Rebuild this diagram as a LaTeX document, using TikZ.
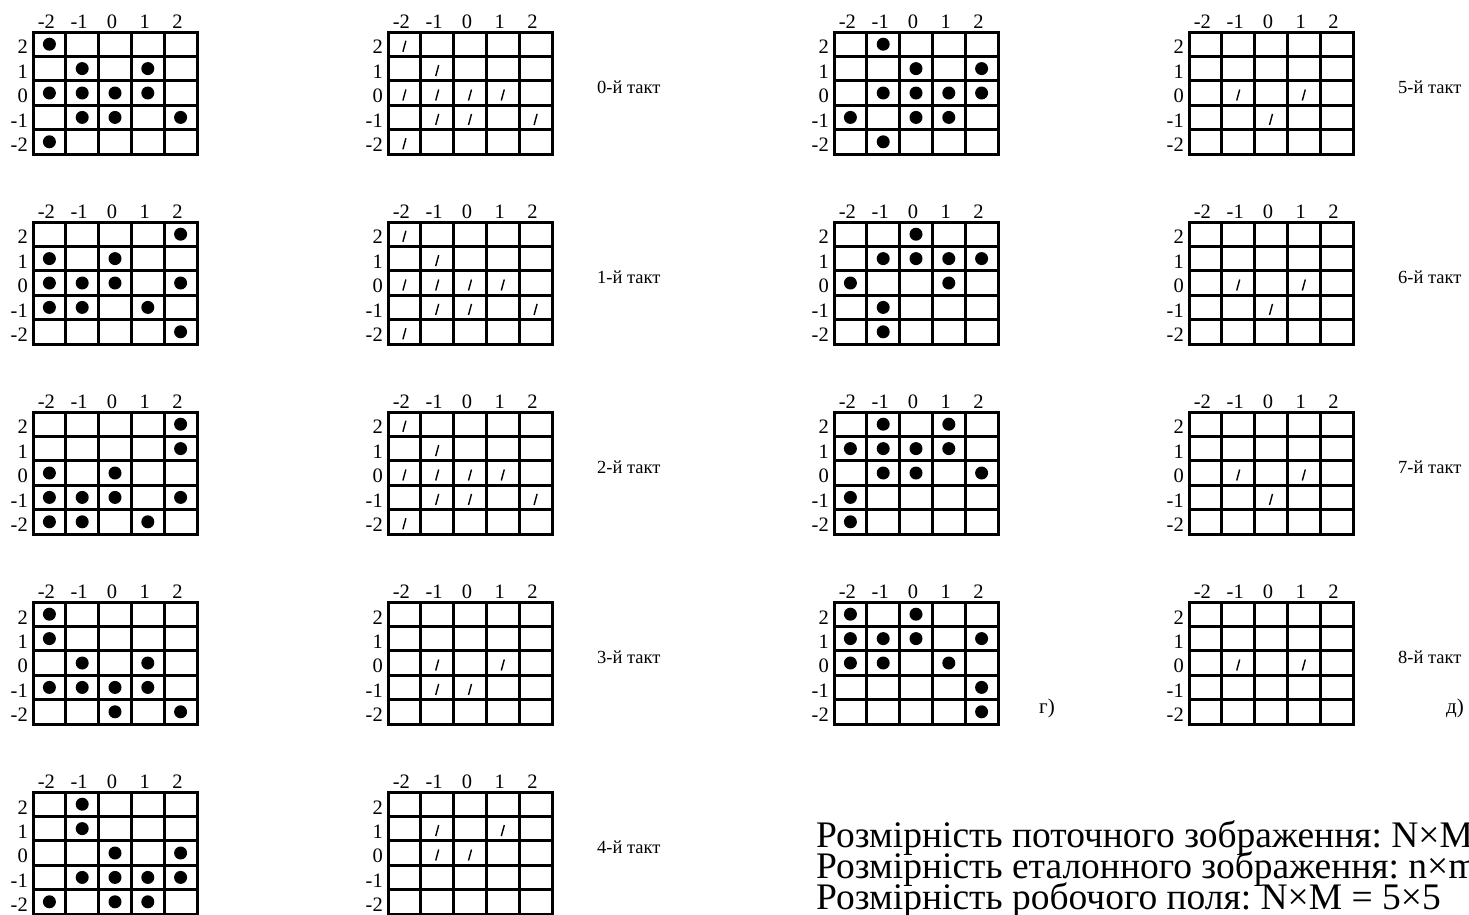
\documentclass[tikz,border=0pt]{standalone}
\usepackage{fontspec}
\setmainfont{Liberation Serif}
\frenchspacing

\tikzset{
  gridline/.style={line width=3pt},
  numlabel/.style={font=\fontsize{20.5}{20.5}\selectfont, inner sep=0pt},
  taktlabel/.style={font=\fontsize{18.5}{18.5}\selectfont, inner sep=0pt, anchor=west},
  slashmark/.style={line width=1.4pt},
  rozmir/.style={anchor=base west, inner sep=0pt, font=\fontsize{37.5}{37.5}\selectfont}
}

% Поле 5x5 з підписами, (#1,#2) -- лівий верхній кут
\newcommand{\pole}[2]{%
  \draw [gridline] (#1,#2) rectangle +(164,122);
  \foreach \i in {1,...,4} {
    \draw [gridline] ({#1+\i*32.8},#2) -- ({#1+\i*32.8},{#2+122});
    \draw [gridline] (#1,{#2+\i*24.4}) -- ({#1+164},{#2+\i*24.4});
  }
  \foreach \k [count=\c from 0] in {-2,-1,0,1,2} {
    \node [numlabel] at ({#1+\c*32.8+13.4},{#2-10}) {\k};
    \node [numlabel, anchor=east] at ({#1-5},{#2+(4-\c)*24.4+15.2}) {\k};
  }
}
% Точки на полі
\newcommand{\tochky}[3]{%
  \foreach \a/\b in {#3}
    \fill ({#1+82+(\a)*32.8},{#2+61-(\b)*24.4}) circle [radius=6.5pt];
}
% Позначки "/" на полі
\newcommand{\mitky}[3]{%
  \foreach \a/\b in {#3}
    \draw [slashmark] ({#1+80.5+(\a)*32.8},{#2+68.5-(\b)*24.4}) -- +(3,-11);
}

\begin{document}
\begin{tikzpicture}[x=1pt, y=-1pt]
\useasboundingbox (0,0) rectangle (1469,914);

% Поточне зображення, такти 0-4
\pole{33}{32}
\tochky{33}{32}{-2/2, -1/1, 1/1, -2/0, -1/0, 0/0, 1/0, -1/-1, 0/-1, 2/-1, -2/-2}
\pole{33}{222}
\tochky{33}{222}{2/2, -2/1, 0/1, -2/0, -1/0, 0/0, 2/0, -2/-1, -1/-1, 1/-1, 2/-2}
\pole{33}{412}
\tochky{33}{412}{2/2, 2/1, -2/0, 0/0, -2/-1, -1/-1, 0/-1, 2/-1, -2/-2, -1/-2, 1/-2}
\pole{33}{602}
\tochky{33}{602}{-2/2, -2/1, -1/0, 1/0, -2/-1, -1/-1, 0/-1, 1/-1, 0/-2, 2/-2}
\pole{33}{792}
\tochky{33}{792}{-1/2, -1/1, 0/0, 2/0, -1/-1, 0/-1, 1/-1, 2/-1, -2/-2, 0/-2, 1/-2}

% Робоче поле, такти 0-4
\pole{388}{32}
\mitky{388}{32}{-2/2, -1/1, -2/0, -1/0, 0/0, 1/0, -1/-1, 0/-1, 2/-1, -2/-2}
\pole{388}{222}
\mitky{388}{222}{-2/2, -1/1, -2/0, -1/0, 0/0, 1/0, -1/-1, 0/-1, 2/-1, -2/-2}
\pole{388}{412}
\mitky{388}{412}{-2/2, -1/1, -2/0, -1/0, 0/0, 1/0, -1/-1, 0/-1, 2/-1, -2/-2}
\pole{388}{602}
\mitky{388}{602}{-1/0, 1/0, -1/-1, 0/-1}
\pole{388}{792}
\mitky{388}{792}{-1/1, 1/1, -1/0, 0/0}

\node [taktlabel] (t0) at (597,87) {0-й такт};
\node [taktlabel] (t1) at (597,277) {1-й такт};
\node [taktlabel] (t2) at (597,467) {2-й такт};
\node [taktlabel] (t3) at (597,657) {3-й такт};
\node [taktlabel] (t4) at (597,847) {4-й такт};

% Поточне зображення, такти 5-8
\pole{834}{32}
\tochky{834}{32}{-1/2, 0/1, 2/1, -1/0, 0/0, 1/0, 2/0, -2/-1, 0/-1, 1/-1, -1/-2}
\pole{834}{222}
\tochky{834}{222}{0/2, -1/1, 0/1, 1/1, 2/1, -2/0, 1/0, -1/-1, -1/-2}
\pole{834}{412}
\tochky{834}{412}{-1/2, 1/2, -2/1, -1/1, 0/1, 1/1, -1/0, 0/0, 2/0, -2/-1, -2/-2}
\pole{834}{602}
\tochky{834}{602}{-2/2, 0/2, -2/1, -1/1, 0/1, 2/1, -2/0, -1/0, 1/0, 2/-1, 2/-2}
\node [numlabel, font=\fontsize{21}{21}\selectfont] (g) at (1047,708) {г)};

% Робоче поле, такти 5-8
\pole{1189}{32}
\mitky{1189}{32}{-1/0, 1/0, 0/-1}
\pole{1189}{222}
\mitky{1189}{222}{-1/0, 1/0, 0/-1}
\pole{1189}{412}
\mitky{1189}{412}{-1/0, 1/0, 0/-1}
\pole{1189}{602}
\mitky{1189}{602}{-1/0, 1/0}

\node [taktlabel] (t5) at (1398,87) {5-й такт};
\node [taktlabel] (t6) at (1398,277) {6-й такт};
\node [taktlabel] (t7) at (1398,467) {7-й такт};
\node [taktlabel] (t8) at (1398,657) {8-й такт};
\node [numlabel, font=\fontsize{21}{21}\selectfont, anchor=west] (d) at (1446,708) {д)};

% Розмірності
\node [rozmir] (r1) at (816,847) {Розмірність поточного зображення: N×M};
\node [rozmir] (r2) at (816,878) {Розмірність еталонного зображення: n×m};
\node [rozmir] (r3) at (816,909) {Розмірність робочого поля: N×M = 5×5};
\end{tikzpicture}
\end{document}
